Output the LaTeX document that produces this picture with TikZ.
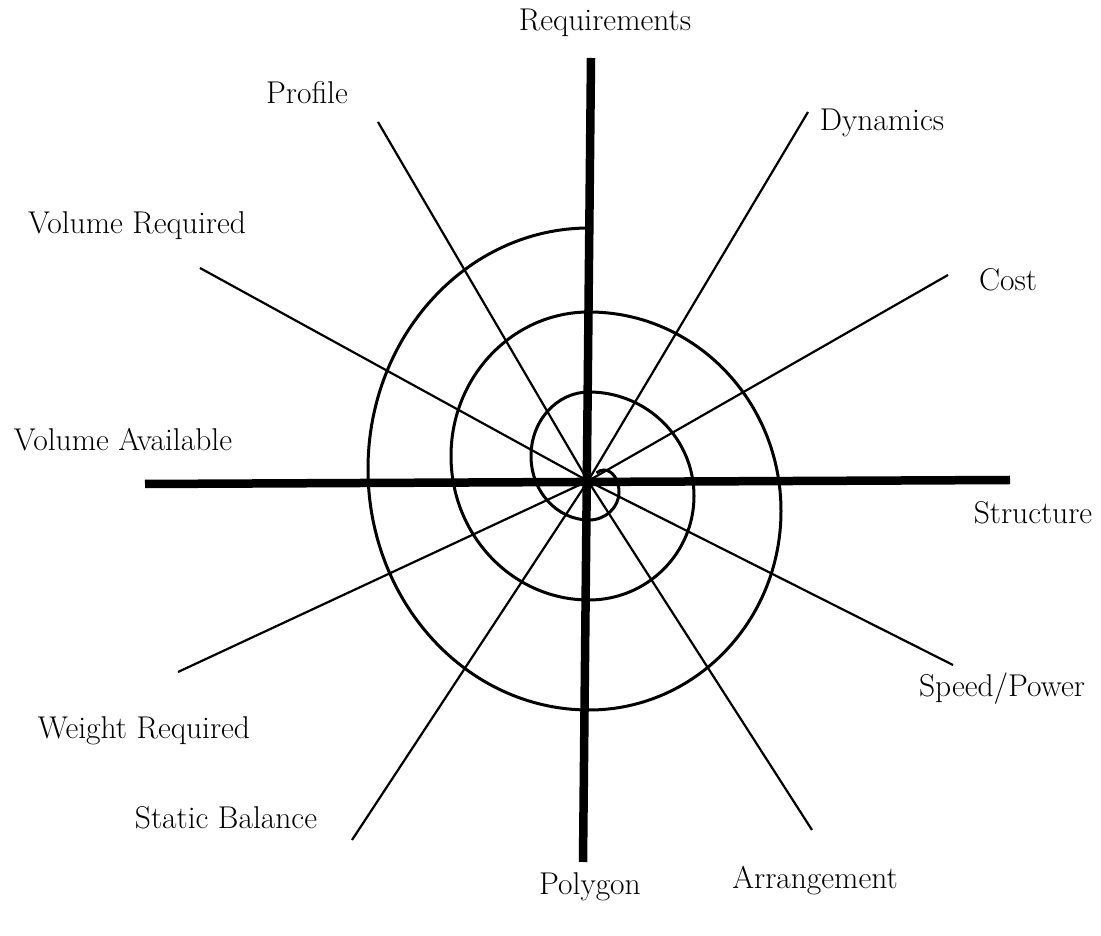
\documentclass[tikz,border=0pt]{standalone}
\usepackage{fontspec}
\begin{document}
\begin{tikzpicture}[x=1pt,y=1pt,
  axis/.style={line width=8.5pt},
  spoke/.style={line width=2.2pt},
  spiralline/.style={line width=3pt},
  lbl/.style={font=\fontsize{31.5}{36}\selectfont, inner sep=0pt, anchor=base}]
\useasboundingbox (0,0) rectangle (1101,935);
% centre and ends
\coordinate (c) at (588,454);
\coordinate (vtop) at (591,877);
\coordinate (vbot) at (583,73);
\coordinate (hl) at (145,451);
\coordinate (hr) at (1010,455);
\coordinate (pe) at (378,813);
\coordinate (de) at (808,823);
\coordinate (vre) at (200,667);
\coordinate (ce) at (948,660);
\coordinate (we) at (178,263);
\coordinate (se) at (953,270);
\coordinate (sbe) at (352,95);
\coordinate (ae) at (812,105);
% spokes
\draw[spoke] (c) -- (pe);
\draw[spoke] (c) -- (de);
\draw[spoke] (c) -- (vre);
\draw[spoke] (c) -- (ce);
\draw[spoke] (c) -- (we);
\draw[spoke] (c) -- (se);
\draw[spoke] (c) -- (sbe);
\draw[spoke] (c) -- (ae);
% spiral
\coordinate (s0) at (589,707);
\draw[spiralline] (s0)
  arc[start angle=90, end angle=270, x radius=221, y radius=241]
  arc[start angle=270, end angle=450, x radius=192, y radius=199]
  arc[start angle=90, end angle=270, x radius=138, y radius=144]
  arc[start angle=270, end angle=450, x radius=105, y radius=104]
  arc[start angle=90, end angle=270, x radius=58, y radius=64]
  arc[start angle=270, end angle=360, x radius=30, y radius=28]
  arc[start angle=0, end angle=120, x radius=15, y radius=22];
% axes
\draw[axis] (vtop) -- (vbot);
\draw[axis] (hl) -- (hr);
% labels
\node[lbl] (req) at (605,904) {Requirements};
\node[lbl] (prof) at (307,831) {Profile};
\node[lbl] (dyn) at (882,804) {Dynamics};
\node[lbl] (volr) at (137,701) {Volume Required};
\node[lbl] (cost) at (1008,644) {Cost};
\node[lbl] (vola) at (123,484) {Volume Available};
\node[lbl] (str) at (1033,411) {Structure};
\node[lbl] (wr) at (144,196) {Weight Required};
\node[lbl] (sp) at (1002,238) {Speed/Power};
\node[lbl] (sb) at (226,106) {Static Balance};
\node[lbl] (poly) at (590,41) {Polygon};
\node[lbl] (arr) at (815,46) {Arrangement};
\end{tikzpicture}
\end{document}
